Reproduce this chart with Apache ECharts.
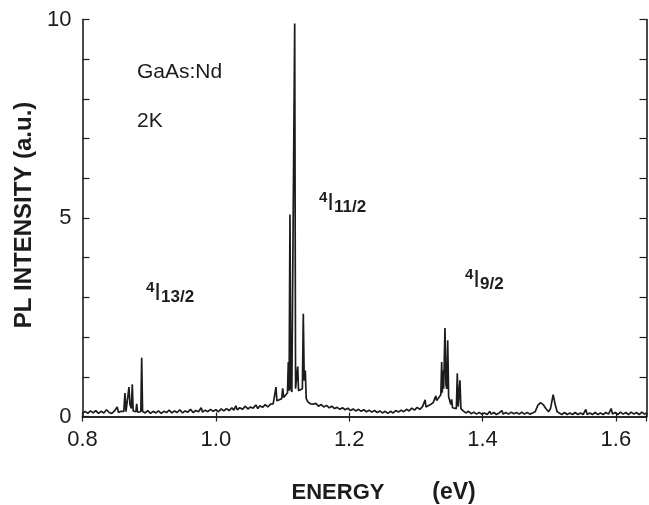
<!DOCTYPE html>
<html>
<head>
<meta charset="utf-8">
<script src="https://cdn.jsdelivr.net/npm/echarts@6/dist/echarts.min.js"></script>
<style>
  html, body { margin: 0; padding: 0; background: #fff; }
  #main { width: 649px; height: 505px; }
</style>
</head>
<body>
<div id="main"></div>
<script>
// spectrum, [energy eV, intensity a.u.], in four stretches
var segLow = [
  [0.800, 0.08], [0.804, 0.13], [0.808, 0.08], [0.812, 0.14], [0.816, 0.09], [0.820, 0.15],
  [0.824, 0.08], [0.828, 0.13], [0.832, 0.09], [0.836, 0.17], [0.840, 0.10], [0.844, 0.08],
  [0.848, 0.14], [0.852, 0.24], [0.854, 0.10], [0.858, 0.13],
  [0.862, 0.13], [0.8637, 0.59], [0.8652, 0.12], [0.8682, 0.15], [0.8697, 0.74], [0.8712, 0.30],
  [0.8732, 0.20], [0.8747, 0.81], [0.876, 0.14], [0.880, 0.12], [0.8813, 0.32], [0.8826, 0.11],
  [0.8875, 0.12], [0.8888, 1.48], [0.8901, 0.13],
  [0.894, 0.09], [0.898, 0.15], [0.902, 0.08], [0.906, 0.13], [0.910, 0.09], [0.914, 0.14],
  [0.918, 0.08], [0.922, 0.13], [0.926, 0.10], [0.930, 0.16], [0.934, 0.09], [0.938, 0.14],
  [0.942, 0.10], [0.946, 0.17], [0.950, 0.09], [0.954, 0.14], [0.958, 0.11], [0.962, 0.18],
  [0.966, 0.10], [0.970, 0.15], [0.974, 0.12], [0.978, 0.22], [0.980, 0.11], [0.984, 0.16],
  [0.988, 0.12], [0.992, 0.18], [0.996, 0.13]
];
var segMid = [
  [1.000, 0.17], [1.004, 0.12], [1.008, 0.19], [1.012, 0.14], [1.016, 0.20], [1.020, 0.15],
  [1.024, 0.22], [1.027, 0.16], [1.030, 0.27], [1.032, 0.17], [1.036, 0.22], [1.040, 0.18],
  [1.044, 0.26], [1.048, 0.19], [1.052, 0.24], [1.056, 0.21], [1.060, 0.29], [1.063, 0.20],
  [1.066, 0.27], [1.070, 0.23], [1.074, 0.30], [1.078, 0.24], [1.082, 0.31], [1.086, 0.32],
  [1.0888, 0.33], [1.0902, 0.74], [1.0916, 0.40], [1.095, 0.42], [1.0988, 0.45], [1.1003, 0.71],
  [1.1018, 0.48], [1.104, 0.52], [1.1075, 0.60], [1.1087, 1.37], [1.1099, 0.65], [1.1112, 5.09],
  [1.1125, 0.70], [1.114, 0.62], [1.1168, 0.66], [1.1183, 9.90], [1.1196, 0.70], [1.1215, 0.68],
  [1.1228, 1.26], [1.1241, 0.65], [1.127, 0.60], [1.1298, 0.70], [1.1312, 2.59], [1.1326, 0.90],
  [1.1342, 1.16], [1.1356, 0.45], [1.138, 0.37], [1.142, 0.32], [1.146, 0.31], [1.150, 0.33],
  [1.154, 0.26], [1.158, 0.30], [1.162, 0.24], [1.166, 0.28], [1.170, 0.22], [1.174, 0.26],
  [1.178, 0.20], [1.182, 0.23], [1.186, 0.18], [1.190, 0.22], [1.194, 0.17], [1.198, 0.21]
];
var segHigh = [
  [1.202, 0.15], [1.206, 0.19], [1.210, 0.14], [1.214, 0.18], [1.218, 0.13], [1.222, 0.17],
  [1.226, 0.12], [1.230, 0.16], [1.234, 0.11], [1.238, 0.15], [1.242, 0.10], [1.246, 0.14],
  [1.250, 0.09], [1.254, 0.13], [1.258, 0.08], [1.262, 0.13], [1.266, 0.09], [1.270, 0.15],
  [1.274, 0.11], [1.278, 0.16], [1.282, 0.12], [1.286, 0.18], [1.290, 0.14], [1.294, 0.21],
  [1.298, 0.16], [1.302, 0.23], [1.306, 0.18], [1.310, 0.25], [1.3128, 0.22], [1.314, 0.42],
  [1.3152, 0.24], [1.318, 0.28], [1.322, 0.30], [1.326, 0.35], [1.3288, 0.36], [1.330, 0.52],
  [1.3312, 0.40], [1.334, 0.45], [1.3375, 0.55], [1.3388, 1.37], [1.3396, 0.60], [1.3403, 1.16],
  [1.3418, 0.70], [1.3437, 2.23], [1.3452, 0.80], [1.3465, 0.70], [1.3478, 1.92], [1.3492, 0.50],
  [1.3525, 0.30], [1.3538, 0.43], [1.355, 0.22], [1.3608, 0.20], [1.3622, 1.09], [1.3636, 0.25],
  [1.3648, 0.22], [1.3662, 0.91], [1.3676, 0.20], [1.371, 0.14], [1.375, 0.09], [1.379, 0.13],
  [1.383, 0.07], [1.387, 0.11], [1.391, 0.06], [1.395, 0.10], [1.399, 0.06]
];
var segTail = [
  [1.403, 0.09], [1.407, 0.05], [1.411, 0.13], [1.413, 0.06], [1.417, 0.10], [1.421, 0.05],
  [1.425, 0.09], [1.429, 0.15], [1.431, 0.06], [1.435, 0.10], [1.439, 0.06], [1.443, 0.11],
  [1.447, 0.07], [1.451, 0.10], [1.455, 0.06], [1.459, 0.11], [1.463, 0.06], [1.467, 0.10],
  [1.471, 0.06], [1.475, 0.09], [1.479, 0.12], [1.483, 0.28], [1.487, 0.35], [1.491, 0.30],
  [1.495, 0.20], [1.499, 0.12], [1.502, 0.20], [1.506, 0.55], [1.509, 0.30], [1.512, 0.12],
  [1.515, 0.08], [1.519, 0.05], [1.523, 0.10], [1.527, 0.05], [1.531, 0.09], [1.535, 0.05],
  [1.539, 0.10], [1.543, 0.05], [1.547, 0.09], [1.551, 0.05], [1.555, 0.18], [1.557, 0.05],
  [1.561, 0.09], [1.565, 0.05], [1.569, 0.10], [1.573, 0.05], [1.577, 0.09], [1.581, 0.05],
  [1.585, 0.10], [1.589, 0.06], [1.593, 0.20], [1.595, 0.06], [1.599, 0.10], [1.603, 0.05],
  [1.607, 0.11], [1.611, 0.06], [1.615, 0.10], [1.619, 0.05], [1.623, 0.11], [1.627, 0.06],
  [1.631, 0.10], [1.635, 0.05], [1.639, 0.11], [1.643, 0.06], [1.646, 0.09]
];
var yLabels = [0, 5, 10];

var ink = "#1c1c1c";
var font = "'Liberation Sans', Arial, sans-serif";
var spectrum = segLow.concat(segMid, segHigh, segTail);

var myChart = echarts.init(document.getElementById("main"));

function xLabel(v) {
  // only the 0.2 steps get a label, not the odd max
  return Math.abs(v * 5 - Math.round(v * 5)) < 1e-6 ? v.toFixed(1) : "";
}
function yLabel(v) {
  return yLabels.indexOf(Math.round(v)) >= 0 && Math.abs(v - Math.round(v)) < 1e-6 ? String(v) : "";
}

var frameLine = { show: true, lineStyle: { color: ink, width: 1.6 } };

var option = {
  animation: false,
  backgroundColor: "#fff",
  grid: {
    left: 82.5, right: 2.5, top: 19.5, bottom: 88.5,
    containLabel: false, outerBoundsMode: "none"
  },
  xAxis: [
    {
      type: "value", min: 0.8, max: 1.646, interval: 0.2, position: "bottom",
      axisLine: frameLine,
      axisTick: { inside: true, length: 4, lineStyle: { color: ink, width: 1.2 } },
      axisLabel: { fontSize: 22, color: ink, fontFamily: font, margin: 12, formatter: xLabel },
      splitLine: { show: false }
    },
    {
      type: "value", min: 0.8, max: 1.646, interval: 0.2, position: "top",
      axisLine: frameLine,
      axisTick: { inside: true, length: 5, lineStyle: { color: ink, width: 1.2 } },
      axisLabel: { show: false },
      splitLine: { show: false }
    }
  ],
  yAxis: [
    {
      type: "value", min: 0, max: 10, interval: 1, position: "left",
      axisLine: frameLine,
      axisTick: { inside: true, length: 7, lineStyle: { color: ink, width: 1.2 } },
      axisLabel: { fontSize: 22, color: ink, fontFamily: font, margin: 11, formatter: yLabel },
      splitLine: { show: false }
    },
    {
      type: "value", min: 0, max: 10, interval: 1, position: "right",
      axisLine: frameLine,
      axisTick: { inside: true, length: 7, lineStyle: { color: ink, width: 1.2 } },
      axisLabel: { show: false },
      splitLine: { show: false }
    }
  ],
  graphic: [
    {
      type: "text", x: 24, y: 215, rotation: Math.PI / 2,
      style: {
        text: "PL INTENSITY (a.u.)", fill: ink, font: "bold 24px " + font,
        align: "center", verticalAlign: "middle"
      }
    },
    {
      type: "text", x: 338, y: 493,
      style: { text: "ENERGY", fill: ink, font: "bold 22px " + font, align: "center", verticalAlign: "middle" }
    },
    {
      type: "text", x: 454, y: 493,
      style: { text: "(eV)", fill: ink, font: "bold 23px " + font, align: "center", verticalAlign: "middle" }
    },
    {
      type: "text", x: 137, y: 72,
      style: { text: "GaAs:Nd", fill: ink, font: "21px " + font, align: "left", verticalAlign: "middle" }
    },
    {
      type: "text", x: 137, y: 121,
      style: { text: "2K", fill: ink, font: "21px " + font, align: "left", verticalAlign: "middle" }
    }
  ],
  series: [
    {
      type: "line",
      data: spectrum,
      showSymbol: false,
      symbol: "none",
      lineStyle: { color: ink, width: 1.7 },
      z: 3
    }
  ]
};

// term labels with a raised 4 and a lowered J
var terms = [
  { x: 319, y: 203, j: "11/2" },
  { x: 146, y: 293, j: "13/2" },
  { x: 465, y: 280, j: "9/2" }
];
terms.forEach(function (t) {
  option.graphic.push({
    type: "text", x: t.x, y: t.y,
    style: {
      text: "{s|4}{m|I}{b|" + t.j + "}",
      align: "left", verticalAlign: "middle",
      rich: {
        s: { fontSize: 15, fontFamily: font, fontWeight: "bold", fill: ink, color: ink, lineHeight: 12, verticalAlign: "top" },
        m: { fontSize: 24, fontFamily: font, fill: ink, color: ink, lineHeight: 26, verticalAlign: "middle" },
        b: { fontSize: 17, fontFamily: font, fontWeight: "bold", fill: ink, color: ink, lineHeight: 15, verticalAlign: "bottom" }
      }
    }
  });
});

myChart.setOption(option);
</script>
</body>
</html>
